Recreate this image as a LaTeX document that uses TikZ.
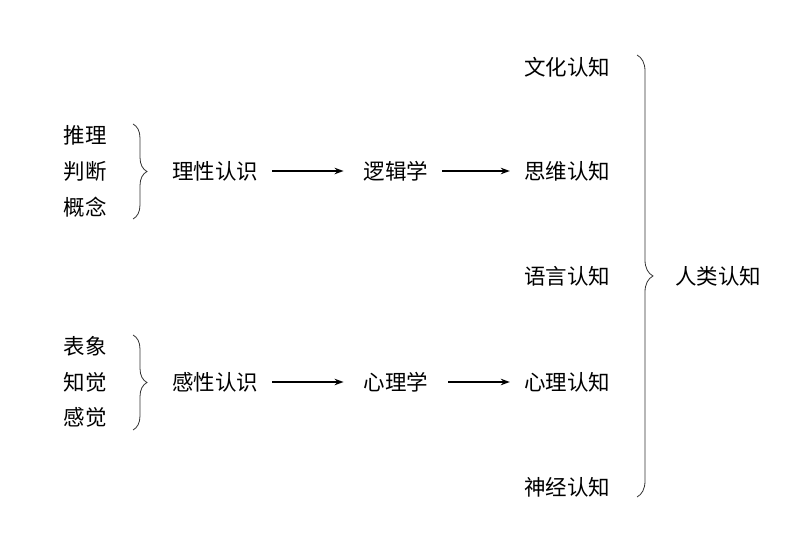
\documentclass[tikz,border=0pt]{standalone}
\usepackage{fontspec}
\setmainfont{Noto Sans CJK SC}
\usetikzlibrary{arrows.meta,decorations.pathreplacing}
\tikzset{
  lbl/.style={inner sep=0pt,font=\fontsize{21.5}{23}\selectfont},
  arr/.style={-{Stealth[length=9pt,width=6.5pt]},line width=1.3pt},
  brc/.style={decorate,decoration={brace,amplitude=#1,aspect=0.5},line width=0.8pt,black!80}
}
\begin{document}
\begin{tikzpicture}[x=1pt,y=-1pt]
\useasboundingbox (0,0) rectangle (790,553);
% left groups
\node[lbl] (a1) at (85,135) {推理};
\node[lbl] (a2) at (85,171) {判断};
\node[lbl] (a3) at (85,207) {概念};
\node[lbl] (b1) at (85,346) {表象};
\node[lbl] (b2) at (85,382) {知觉};
\node[lbl] (b3) at (85,417) {感觉};
% middle
\node[lbl] (lx) at (215,171) {理性认识};
\node[lbl] (gx) at (215,382) {感性认识};
\node[lbl] (lj) at (396,171) {逻辑学};
\node[lbl] (xl) at (396,382) {心理学};
% right column
\node[lbl] (r1) at (567,67) {文化认知};
\node[lbl] (r2) at (567,171) {思维认知};
\node[lbl] (r3) at (567,276) {语言认知};
\node[lbl] (r4) at (567,382) {心理认知};
\node[lbl] (r5) at (567,487) {神经认知};
\node[lbl] (rl) at (718,276) {人类认知};
% braces
\coordinate (t1) at (133,124); \coordinate (e1) at (133,219);
\coordinate (t2) at (133,335); \coordinate (e2) at (133,430);
\coordinate (t3) at (637,55);  \coordinate (e3) at (637,497);
\draw[brc=14pt] (t1) -- (e1);
\draw[brc=14pt] (t2) -- (e2);
\draw[brc=16pt] (t3) -- (e3);
% arrows
\draw[arr,shorten <=14pt,shorten >=20pt] (lx) -- (lj);
\draw[arr,shorten <=14pt,shorten >=14pt] (lj) -- (r2);
\draw[arr,shorten <=14pt,shorten >=20pt] (gx) -- (xl);
\draw[arr,shorten <=20pt,shorten >=14pt] (xl) -- (r4);
\end{tikzpicture}
\end{document}
